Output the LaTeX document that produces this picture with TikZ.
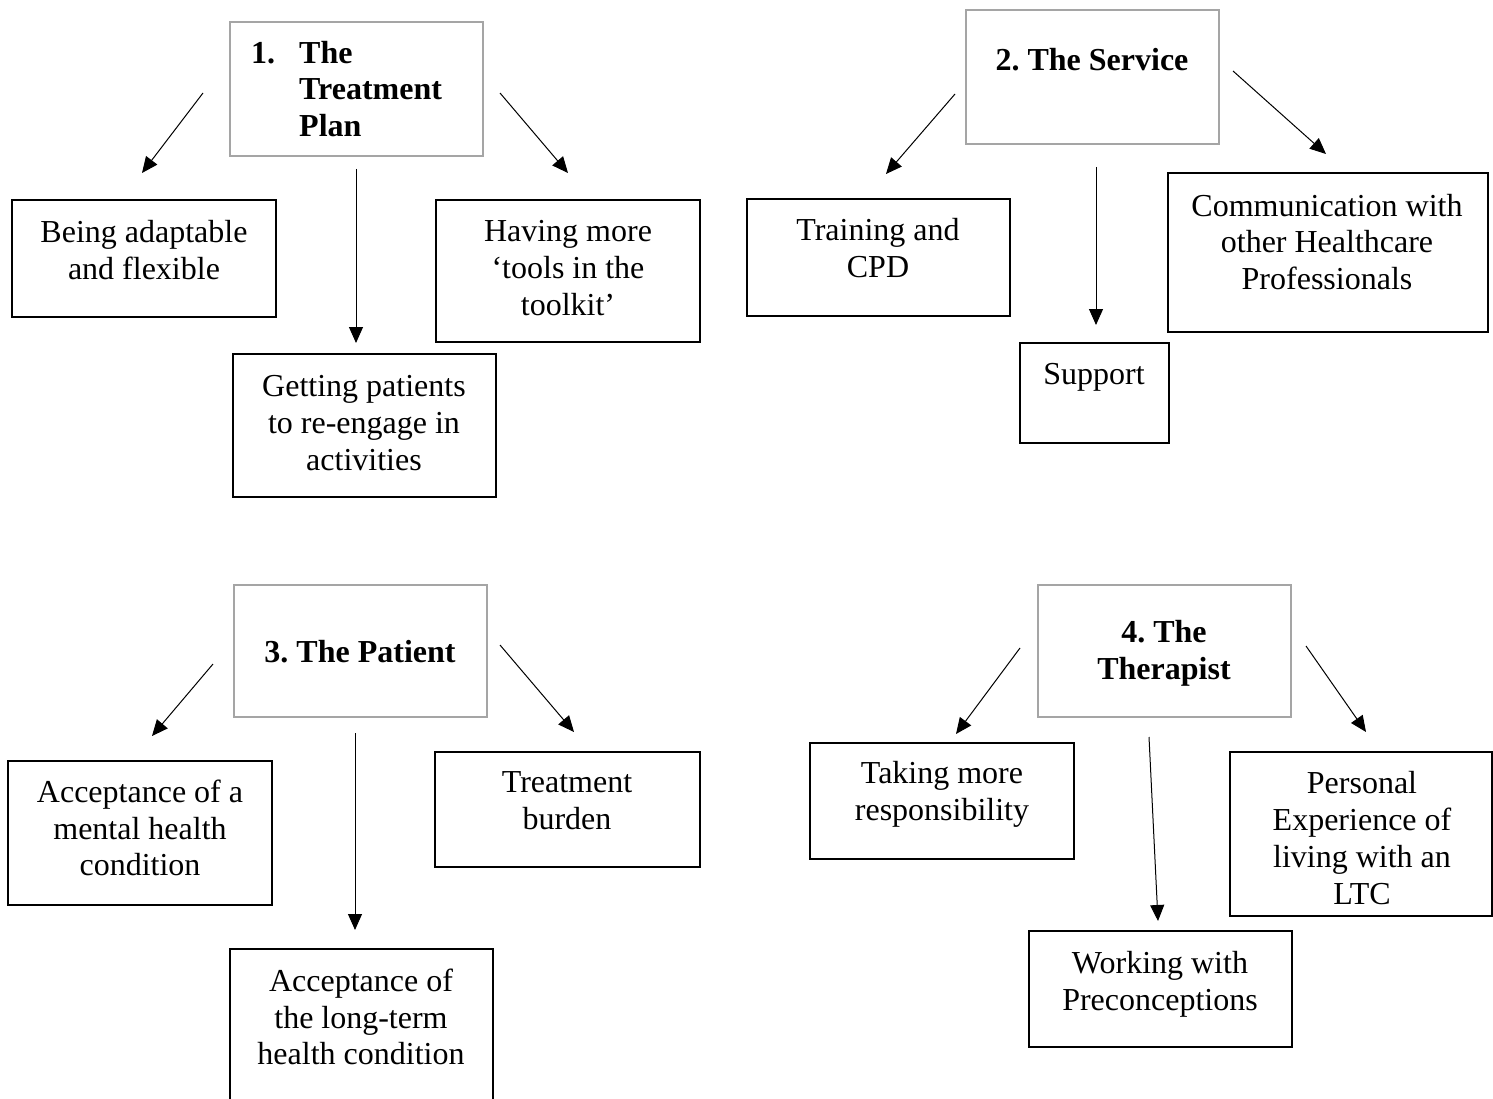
\documentclass[tikz,border=0pt]{standalone}
\usepackage{fontspec}
\setmainfont{Liberation Serif}
\usetikzlibrary{arrows.meta}
\definecolor{boxgray}{RGB}{165,165,165}
\frenchspacing
\begin{document}
\begin{tikzpicture}[x=1pt,y=-1pt,
  box/.style={draw=black,line width=2.2pt,anchor=north west,inner sep=0pt,outer sep=0pt},
  titlebox/.style={box,draw=boxgray},
  txt/.style={font=\fontsize{32}{36.7}\selectfont\frenchspacing,align=center,inner sep=0pt},
  ttl/.style={txt,font=\fontsize{32}{36.7}\selectfont\bfseries\frenchspacing},
  arr/.style={-{Triangle[length=16pt,width=14pt]},line width=1pt}]
\useasboundingbox[fill=white] (0,0) rectangle (1493,1099);

% ---------- Group 1 ----------
\node[titlebox,minimum width=253,minimum height=134] (t1) at (230,22) {};
\node[ttl,align=left,anchor=west] (t1txt) at (251,89)
  {\makebox[48pt][l]{1.}The\\\hspace*{48pt}Treatment\\\hspace*{48pt}Plan};
\node[box,minimum width=264,minimum height=117] (b11) at (12,200) {};
\node[txt] (b11txt) at (144,250) {Being adaptable\\and flexible};
\node[box,minimum width=264,minimum height=142] (b12) at (436,200) {};
\node[txt] (b12txt) at (568,268) {Having more\\‘tools in the\\toolkit’};
\node[box,minimum width=263,minimum height=143] (b13) at (233,354) {};
\node[txt] (b13txt) at (364,423) {Getting patients\\to re-engage in\\activities};
\coordinate (a11s) at (203,93);  \coordinate (a11e) at (142,173);
\coordinate (a12s) at (356,169); \coordinate (a12e) at (356,343);
\coordinate (a13s) at (500,93);  \coordinate (a13e) at (568,173);
\draw[arr] (a11s) -- (a11e);
\draw[arr] (a12s) -- (a12e);
\draw[arr] (a13s) -- (a13e);

% ---------- Group 2 ----------
\node[titlebox,minimum width=253,minimum height=134] (t2) at (966,10) {};
\node[ttl] (t2txt) at (1092,60) {2. The Service};
\node[box,minimum width=263,minimum height=117] (b21) at (747,199) {};
\node[txt] (b21txt) at (878,248) {Training and\\CPD};
\node[box,minimum width=149,minimum height=100] (b22) at (1020,343) {};
\node[txt] (b22txt) at (1094,377) {Support};
\node[box,minimum width=320,minimum height=159] (b23) at (1168,173) {};
\node[txt] (b23txt) at (1327,242) {Communication with\\other Healthcare\\Professionals};
\coordinate (a21s) at (955,94);   \coordinate (a21e) at (886,174);
\coordinate (a22s) at (1096,167); \coordinate (a22e) at (1096,325);
\coordinate (a23s) at (1233,71);  \coordinate (a23e) at (1326,154);
\draw[arr] (a21s) -- (a21e);
\draw[arr] (a22s) -- (a22e);
\draw[arr] (a23s) -- (a23e);

% ---------- Group 3 ----------
\node[titlebox,minimum width=253,minimum height=132] (t3) at (234,585) {};
\node[ttl] (t3txt) at (360,652) {3. The Patient};
\node[box,minimum width=264,minimum height=144] (b31) at (8,761) {};
\node[txt] (b31txt) at (140,828) {Acceptance of a\\mental health\\condition};
\node[box,minimum width=265,minimum height=115] (b32) at (435,752) {};
\node[txt] (b32txt) at (567,801) {Treatment\\burden};
\node[box,minimum width=263,minimum height=160] (b33) at (230,949) {};
\node[txt] (b33txt) at (361,1017) {Acceptance of\\the long-term\\health condition};
\coordinate (a31s) at (213,664); \coordinate (a31e) at (152,736);
\coordinate (a32s) at (355,733); \coordinate (a32e) at (355,930);
\coordinate (a33s) at (500,645); \coordinate (a33e) at (574,732);
\draw[arr] (a31s) -- (a31e);
\draw[arr] (a32s) -- (a32e);
\draw[arr] (a33s) -- (a33e);

% ---------- Group 4 ----------
\node[titlebox,minimum width=253,minimum height=132] (t4) at (1038,585) {};
\node[ttl] (t4txt) at (1164,653) {4. The\\Therapist};
\node[box,minimum width=264,minimum height=116] (b41) at (810,743) {};
\node[txt] (b41txt) at (942,794) {Taking more\\responsibility};
\node[box,minimum width=262,minimum height=164] (b42) at (1230,752) {};
\node[txt] (b42txt) at (1362,838) {Personal\\Experience of\\living with an\\LTC};
\node[box,minimum width=263,minimum height=116] (b43) at (1029,931) {};
\node[txt] (b43txt) at (1160,984) {Working with\\Preconceptions};
\coordinate (a41s) at (1020,648); \coordinate (a41e) at (956,734);
\coordinate (a42s) at (1149,737); \coordinate (a42e) at (1158,921);
\coordinate (a43s) at (1306,646); \coordinate (a43e) at (1366,732);
\draw[arr] (a41s) -- (a41e);
\draw[arr] (a42s) -- (a42e);
\draw[arr] (a43s) -- (a43e);
\end{tikzpicture}
\end{document}
